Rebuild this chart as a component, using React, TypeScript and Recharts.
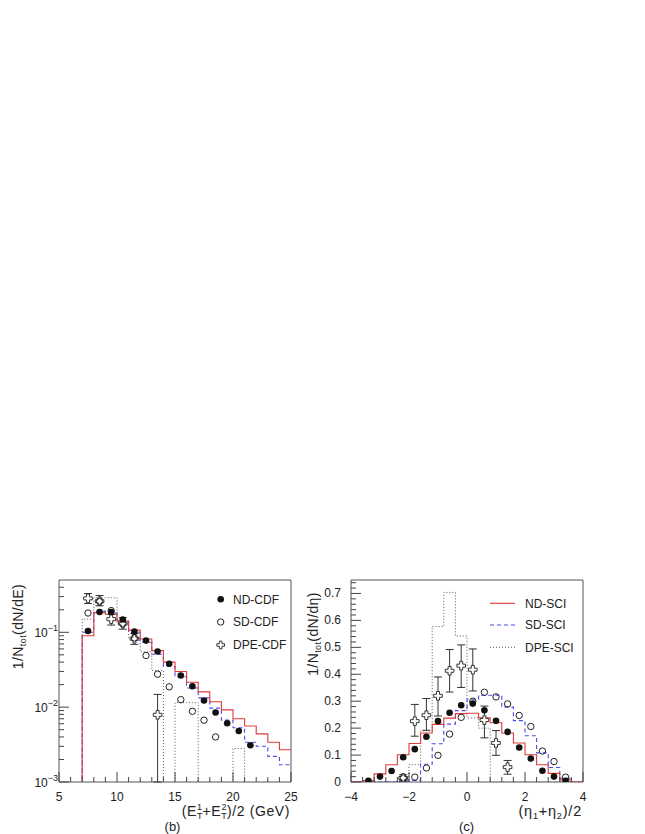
import { ComposedChart, Line, Scatter, XAxis, YAxis, ErrorBar, ReferenceArea } from "recharts";

const FONT = '"Liberation Sans", Arial, Helvetica, sans-serif';
const RED = "#e03a3a";
const BLUE = "#4b4bee";
const DOT = "#555";
const INK = "#222";

// ---- panel (b): (Et1+Et2)/2, 1 GeV bins from 7 GeV ----
const etEdges = [7, 8, 9, 10, 11, 12, 13, 14, 15, 16, 17, 18, 19, 20, 21, 22, 23, 24];
const ndSciEt = [0.09, 0.183, 0.174, 0.141, 0.107, 0.0815, 0.057, 0.04, 0.03, 0.0215, 0.016, 0.0118, 0.0092, 0.007, 0.0056, 0.0044, 0.0034, 0.0027];
const sdSciEt = [0.1, 0.192, 0.182, 0.145, 0.1, 0.0736, 0.051, 0.035, 0.0255, 0.018, 0.0133, 0.0097, 0.0067, 0.0053, 0.0034, 0.003, 0.0022, 0.0017];
const dpeSciEt = [0.15, 0.29, 0.29, 0.13, 0.085, 0.055, 0.031, 0, 0.0115, 0.0115, 0, 0, 0, 0.0028, 0, 0, 0, 0];

const ndCdfEtX = [7.5, 8.5, 9.5, 10.5, 11.5, 12.5, 13.5, 14.5, 15.5, 16.5, 17.5, 18.5, 19.5, 20.5, 21.5];
const ndCdfEt = [0.104, 0.187, 0.187, 0.148, 0.102, 0.0775, 0.0553, 0.038, 0.0265, 0.019, 0.0123, 0.0085, 0.0061, 0.0048, 0.0031];
const sdCdfEtX = [7.5, 8.5, 9.5, 10.5, 11.5, 12.5, 13.5, 14.5, 15.5, 16.5, 17.5, 18.5];
const sdCdfEt = [0.181, 0.26, 0.195, 0.13, 0.084, 0.049, 0.0276, 0.0187, 0.0126, 0.0088, 0.0067, 0.004];
const dpeCdfEtX = [7.5, 8.5, 9.5, 10.5, 11.5, 13.5];
const dpeCdfEt = [0.284, 0.26, 0.15, 0.131, 0.082, 0.0079];
const dpeCdfEtLo = [0.243, 0.226, 0.125, 0.11, 0.069, 0.001];
const dpeCdfEtHi = [0.33, 0.31, 0.174, 0.157, 0.096, 0.0148];

// ---- panel (c): (eta1+eta2)/2, 0.4 bins from -4 ----
const etaEdges = [-4, -3.6, -3.2, -2.8, -2.4, -2, -1.6, -1.2, -0.8, -0.4, 0, 0.4, 0.8, 1.2, 1.6, 2, 2.4, 2.8, 3.2, 3.6];
const ndSciEta = [0, 0.005, 0.03, 0.064, 0.101, 0.143, 0.182, 0.214, 0.237, 0.254, 0.255, 0.238, 0.22, 0.182, 0.145, 0.101, 0.064, 0.032, 0.008, 0];
const sdSciEta = [0, 0, 0, 0, 0.004, 0.006, 0.066, 0.142, 0.215, 0.265, 0.307, 0.322, 0.322, 0.278, 0.228, 0.172, 0.108, 0.054, 0.014, 0];
const dpeSciEta = [0, 0, 0, 0, 0, 0.064, 0.19, 0.577, 0.704, 0.542, 0.238, 0.2, 0, 0, 0, 0, 0, 0, 0, 0];

const ndCdfEtaX = [-3.4, -3, -2.6, -2.2, -1.8, -1.4, -1, -0.6, -0.2, 0.2, 0.6, 1, 1.4, 1.8, 2.2, 2.6, 3, 3.4];
const ndCdfEta = [0.004, 0.02, 0.041, 0.092, 0.122, 0.168, 0.226, 0.257, 0.285, 0.291, 0.266, 0.227, 0.186, 0.128, 0.087, 0.042, 0.02, 0.004];
const sdCdfEtaX = [-2.2, -1.8, -1.4, -1, -0.6, -0.2, 0.2, 0.6, 1, 1.4, 1.8, 2.2, 2.6, 3, 3.4];
const sdCdfEta = [0.015, 0.018, 0.052, 0.099, 0.178, 0.24, 0.3, 0.333, 0.316, 0.29, 0.247, 0.206, 0.115, 0.076, 0.018];
const dpeCdfEtaX = [-2.2, -1.8, -1.4, -1, -0.6, -0.2, 0.2, 0.6, 1, 1.4];
const dpeCdfEta = [0.015, 0.226, 0.248, 0.32, 0.413, 0.432, 0.417, 0.23, 0.145, 0.055];
const dpeCdfEtaLo = [0.003, 0.17, 0.192, 0.245, 0.334, 0.351, 0.338, 0.164, 0.099, 0.029];
const dpeCdfEtaHi = [0.027, 0.288, 0.31, 0.39, 0.492, 0.509, 0.494, 0.282, 0.191, 0.08];

// tick positions
const etTicks = [5, 6, 7, 8, 9, 10, 11, 12, 13, 14, 15, 16, 17, 18, 19, 20, 21, 22, 23, 24, 25];
const etMajor = [5, 10, 15, 20, 25];
const logTicks = [0.001, 0.002, 0.003, 0.004, 0.005, 0.006, 0.007, 0.008, 0.009, 0.01, 0.02, 0.03, 0.04, 0.05, 0.06, 0.07, 0.08, 0.09, 0.1, 0.2, 0.3, 0.4];
const logMajor = [0.001, 0.01, 0.1];
const logLabels = ["\u22123", "\u22122", "\u22121"];
const etaMajor = [-4, -2, 0, 2, 4];
const etaLabels = ["\u22124", "\u22122", "0", "2", "4"];
const etaTicks = Array.from({ length: 21 }, (_, k) => Math.round((-4 + 0.4 * k) * 10) / 10);
const linTicks = Array.from({ length: 38 }, (_, k) => Math.round(k * 2) / 100);

const LOG_FLOOR = 0.0003;

function steps(edges: number[], vals: number[], width: number, floor: number) {
  const pts = [{ x: edges[0], y: floor }];
  edges.forEach((e, i) => pts.push({ x: e, y: vals[i] > 0 ? vals[i] : floor }));
  const last = vals[vals.length - 1];
  pts.push({ x: edges[edges.length - 1] + width, y: last > 0 ? last : floor });
  return pts;
}

const pts = (xs: number[], ys: number[]) => xs.map((x, i) => ({ x, y: ys[i] }));
const errPts = (xs: number[], ys: number[], lo: number[], hi: number[]) =>
  xs.map((x, i) => ({ x, y: ys[i], err: [ys[i] - lo[i], hi[i] - ys[i]] }));

const near = (a: number, list: number[]) => list.findIndex((b) => Math.abs(a - b) < 1e-6);

const crossPoints = (cx: number, cy: number, a: number, w: number) =>
  [
    [-w, -a], [w, -a], [w, -w], [a, -w], [a, w], [w, w], [w, a], [-w, a], [-w, w], [-a, w], [-a, -w], [-w, -w],
  ]
    .map(([dx, dy]) => `${cx + dx},${cy + dy}`)
    .join(" ");

const FilledDot = (p: any) => <circle cx={p.cx} cy={p.cy} r={3.3} fill="#111" />;
const OpenDot = (p: any) => <circle cx={p.cx} cy={p.cy} r={3.2} fill="none" stroke={INK} strokeWidth={1} />;
const OpenCross = (p: any) => (
  <polygon points={crossPoints(p.cx, p.cy, 4.3, 1.5)} fill="#fff" stroke="#333" strokeWidth={1} />
);

function EtXTick(p: any) {
  const v = p.payload.value;
  const m = near(v, etMajor) >= 0;
  return (
    <g>
      <line x1={p.x} x2={p.x} y1={p.y} y2={p.y - (m ? 10 : 5)} stroke="#444" />
      {m && (
        <text x={p.x} y={p.y + 19} textAnchor="middle" fontSize={12} fontFamily={FONT} fill={INK}>
          {v}
        </text>
      )}
    </g>
  );
}

function LogYTick(p: any) {
  const v = p.payload.value;
  const i = near(v, logMajor);
  return (
    <g>
      <line x1={p.x} x2={p.x + (i >= 0 ? 10 : 5)} y1={p.y} y2={p.y} stroke="#444" />
      {i >= 0 && (
        <text x={p.x - 1} y={p.y + 5} textAnchor="end" fontSize={12} fontFamily={FONT} fill={INK}>
          <tspan>10</tspan>
          <tspan dy={-6} fontSize={9}>{logLabels[i]}</tspan>
        </text>
      )}
    </g>
  );
}

function EtaXTick(p: any) {
  const v = p.payload.value;
  const i = near(v, etaMajor);
  return (
    <g>
      <line x1={p.x} x2={p.x} y1={p.y} y2={p.y - (i >= 0 ? 10 : 5)} stroke="#444" />
      {i >= 0 && (
        <text x={p.x} y={p.y + 19} textAnchor="middle" fontSize={12} fontFamily={FONT} fill={INK}>
          {etaLabels[i]}
        </text>
      )}
    </g>
  );
}

function LinYTick(p: any) {
  const v = p.payload.value;
  const m = Math.abs(v * 10 - Math.round(v * 10)) < 1e-6;
  return (
    <g>
      <line x1={p.x} x2={p.x + (m ? 10 : 5)} y1={p.y} y2={p.y} stroke="#444" />
      {m && (
        <text x={p.x - 10} y={p.y + 4} textAnchor="end" fontSize={12} fontFamily={FONT} fill={INK}>
          {v === 0 ? "0" : v.toFixed(1)}
        </text>
      )}
    </g>
  );
}

function EtPanel() {
  return (
    <ComposedChart width={300} height={262} margin={{ top: 20, right: 9, bottom: 0, left: 0 }}>
      <XAxis dataKey="x" type="number" domain={[5, 25]} allowDataOverflow ticks={etTicks} interval={0}
        tick={<EtXTick />} tickSize={0} tickMargin={0} axisLine={false} tickLine={false} height={40} />
      <YAxis type="number" scale="log" domain={[0.001, 0.5]} allowDataOverflow ticks={logTicks} interval={0}
        tick={<LogYTick />} tickSize={0} tickMargin={0} axisLine={false} tickLine={false} width={59} />
      <ReferenceArea x1={5} x2={25} y1={0.001} y2={0.5} fill="none" stroke="#555" strokeWidth={1} ifOverflow="visible" />
      <Line data={steps(etEdges, dpeSciEt, 1, LOG_FLOOR)} dataKey="y" type="stepAfter" stroke={DOT}
        strokeWidth={1} strokeDasharray="1 2" dot={false} isAnimationActive={false} />
      <Line data={steps(etEdges, sdSciEt, 1, LOG_FLOOR)} dataKey="y" type="stepAfter" stroke={BLUE}
        strokeWidth={1.1} strokeDasharray="4 3" dot={false} isAnimationActive={false} />
      <Line data={steps(etEdges, ndSciEt, 1, LOG_FLOOR)} dataKey="y" type="stepAfter" stroke={RED}
        strokeWidth={1.1} dot={false} isAnimationActive={false} />
      <Scatter data={errPts(dpeCdfEtX, dpeCdfEt, dpeCdfEtLo, dpeCdfEtHi)} dataKey="y" shape={OpenCross} isAnimationActive={false}>
        <ErrorBar dataKey="err" direction="y" width={4} stroke="#333" strokeWidth={1} isAnimationActive={false} />
      </Scatter>
      <Scatter data={pts(sdCdfEtX, sdCdfEt)} dataKey="y" shape={OpenDot} isAnimationActive={false} />
      <Scatter data={pts(ndCdfEtX, ndCdfEt)} dataKey="y" shape={FilledDot} isAnimationActive={false} />
    </ComposedChart>
  );
}

function EtaPanel() {
  return (
    <ComposedChart width={300} height={262} margin={{ top: 20, right: 17, bottom: 0, left: 0 }}>
      <XAxis dataKey="x" type="number" domain={[-4, 4]} allowDataOverflow ticks={etaTicks} interval={0}
        tick={<EtaXTick />} tickSize={0} tickMargin={0} axisLine={false} tickLine={false} height={40} />
      <YAxis type="number" domain={[0, 0.75]} allowDataOverflow ticks={linTicks} interval={0}
        tick={<LinYTick />} tickSize={0} tickMargin={0} axisLine={false} tickLine={false} width={51} />
      <ReferenceArea x1={-4} x2={4} y1={0} y2={0.75} fill="none" stroke="#555" strokeWidth={1} ifOverflow="visible" />
      <Line data={steps(etaEdges, dpeSciEta, 0.4, 0)} dataKey="y" type="stepAfter" stroke={DOT}
        strokeWidth={1} strokeDasharray="1 2" dot={false} isAnimationActive={false} />
      <Line data={steps(etaEdges, sdSciEta, 0.4, 0)} dataKey="y" type="stepAfter" stroke={BLUE}
        strokeWidth={1.1} strokeDasharray="4 3" dot={false} isAnimationActive={false} />
      <Line data={steps(etaEdges, ndSciEta, 0.4, 0)} dataKey="y" type="stepAfter" stroke={RED}
        strokeWidth={1.1} dot={false} isAnimationActive={false} />
      <Scatter data={errPts(dpeCdfEtaX, dpeCdfEta, dpeCdfEtaLo, dpeCdfEtaHi)} dataKey="y" shape={OpenCross} isAnimationActive={false}>
        <ErrorBar dataKey="err" direction="y" width={4} stroke="#333" strokeWidth={1} isAnimationActive={false} />
      </Scatter>
      <Scatter data={pts(sdCdfEtaX, sdCdfEta)} dataKey="y" shape={OpenDot} isAnimationActive={false} />
      <Scatter data={pts(ndCdfEtaX, ndCdfEta)} dataKey="y" shape={FilledDot} isAnimationActive={false} />
    </ComposedChart>
  );
}

export default function App() {
  const txt = { fontFamily: FONT, fill: INK } as const;
  return (
    <div style={{ position: "absolute", left: 0, top: 0, width: 645, height: 834, background: "#fff" }}>
      <div style={{ position: "absolute", left: 0, top: 560 }}>
        <EtPanel />
      </div>
      <div style={{ position: "absolute", left: 300, top: 560 }}>
        <EtaPanel />
      </div>
      <svg width={645} height={834} style={{ position: "absolute", left: 0, top: 0, pointerEvents: "none" }}>
        {/* legend (b) */}
        <circle cx={220.7} cy={599.3} r={3.3} fill="#111" />
        <circle cx={220.7} cy={622} r={3.2} fill="none" stroke={INK} />
        <polygon points={crossPoints(220.7, 645, 3.8, 1.3)} fill="#fff" stroke="#333" />
        <text x={233} y={603.5} fontSize={12} {...txt}>ND-CDF</text>
        <text x={233} y={626.3} fontSize={12} {...txt}>SD-CDF</text>
        <text x={233} y={649.3} fontSize={12} {...txt}>DPE-CDF</text>
        {/* legend (c) */}
        <line x1={490} x2={515} y1={603.3} y2={603.3} stroke={RED} strokeWidth={1.1} />
        <line x1={490} x2={515} y1={625} y2={625} stroke={BLUE} strokeWidth={1.1} strokeDasharray="4 3" />
        <line x1={490} x2={515} y1={647.3} y2={647.3} stroke={DOT} strokeDasharray="1 2" />
        <text x={525} y={607.5} fontSize={12} {...txt}>ND-SCI</text>
        <text x={525} y={629.3} fontSize={12} {...txt}>SD-SCI</text>
        <text x={525} y={651.5} fontSize={12} {...txt}>DPE-SCI</text>
        {/* axis titles */}
        <text transform="translate(22.5,626.5) rotate(-90)" textAnchor="middle" fontSize={14} letterSpacing={0.4} {...txt}>
          <tspan>1/N</tspan>
          <tspan fontSize={9} dy={3}>tot</tspan>
          <tspan dy={-3}>(dN/dE)</tspan>
        </text>
        <text transform="translate(318,634) rotate(-90)" textAnchor="middle" fontSize={14} letterSpacing={0.4} {...txt}>
          <tspan>1/N</tspan>
          <tspan fontSize={9} dy={3}>tot</tspan>
          <tspan dy={-3}>(dN/d</tspan>
          <tspan>η)</tspan>
        </text>
        <text x={290} y={816} textAnchor="end" fontSize={14} letterSpacing={0.6} {...txt}>
          <tspan>(E</tspan>
          <tspan fontSize={9} dy={3}>T</tspan>
          <tspan fontSize={9} dx={-6} dy={-9}>1</tspan>
          <tspan dy={6}>+E</tspan>
          <tspan fontSize={9} dy={3}>T</tspan>
          <tspan fontSize={9} dx={-6} dy={-9}>2</tspan>
          <tspan dy={6}>)/2 (GeV)</tspan>
        </text>
        <text x={582} y={816} textAnchor="end" fontSize={14.5} letterSpacing={0.8} {...txt}>
          <tspan>(η</tspan>
          <tspan fontSize={9} dy={3}>1</tspan>
          <tspan dy={-3}>+η</tspan>
          <tspan fontSize={9} dy={3}>2</tspan>
          <tspan dy={-3}>)/2</tspan>
        </text>
        <text x={172.5} y={831} textAnchor="middle" fontSize={13} {...txt}>(b)</text>
        <text x={466.5} y={831} textAnchor="middle" fontSize={13} {...txt}>(c)</text>
      </svg>
    </div>
  );
}
